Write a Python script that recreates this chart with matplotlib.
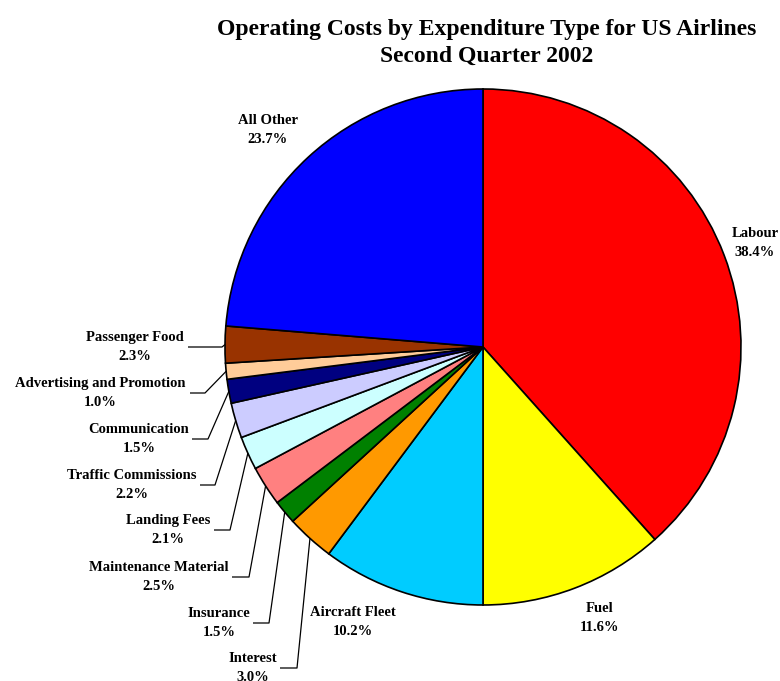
import numpy as np
import matplotlib
matplotlib.use('Agg')
import matplotlib.pyplot as plt

# Operating cost shares, second quarter 2002 (percent of total)
categories = ['Labour', 'Fuel', 'Aircraft Fleet', 'Interest', 'Insurance',
              'Maintenance Material', 'Landing Fees', 'Traffic Commissions',
              'Communication', 'Advertising and Promotion', 'Passenger Food',
              'All Other']
shares = [38.4, 11.6, 10.2, 3.0, 1.5, 2.5, 2.1, 2.2, 1.5, 1.0, 2.3, 23.7]
colors = ['#FF0000', '#FFFF00', '#00CCFF', '#FF9900', '#008000', '#FF8080',
          '#CCFFFF', '#CCCCFF', '#000080', '#FFCC99', '#993300', '#0000FF']

W, H = 780, 681
cx, cy, R = 483, 347, 258

# label centre (x, y) in pixels from the top-left corner
label_pos = {
    'Labour': (755, 243),
    'Fuel': (600, 618),
    'Aircraft Fleet': (353, 622),
    'Interest': (253, 668),
    'Insurance': (219, 623),
    'Maintenance Material': (159, 577),
    'Landing Fees': (168, 530),
    'Traffic Commissions': (132, 485),
    'Communication': (139, 439),
    'Advertising and Promotion': (100, 393),
    'Passenger Food': (135, 347),
    'All Other': (268, 130),
}
# leader lines: (start x, elbow x); the line runs at the label's y
leaders = {
    'Interest': (280, 297),
    'Insurance': (253, 269),
    'Maintenance Material': (232, 249),
    'Landing Fees': (214, 230),
    'Traffic Commissions': (200, 215),
    'Communication': (192, 208),
    'Advertising and Promotion': (190, 205),
    'Passenger Food': (188, 222),
}

plt.rcParams['font.family'] = ['Liberation Serif', 'DejaVu Serif']

fig = plt.figure(figsize=(W / 100, H / 100), dpi=100)
ax = fig.add_axes([0, 0, 1, 1])

wedges, _ = ax.pie(shares, colors=colors, startangle=90, counterclock=False,
                   center=(cx, H - cy), radius=R,
                   wedgeprops=dict(edgecolor='black', linewidth=1.2))
ax.set_aspect('equal')
ax.set_xlim(0, W)
ax.set_ylim(0, H)
ax.axis('off')

for name, share, w in zip(categories, shares, wedges):
    tx, ty = label_pos[name]
    ax.text(tx, H - ty, f'{name}\n{share:.1f}%', ha='center', va='center',
            fontsize=10.5, fontweight='bold', linespacing=1.6)
    if name in leaders:
        x0, ex = leaders[name]
        mid = np.deg2rad((w.theta1 + w.theta2) / 2)
        ax_, ay_ = cx + R * np.cos(mid), (H - cy) + R * np.sin(mid)
        ax.plot([x0, ex, ax_], [H - ty, H - ty, ay_], color='black',
                linewidth=0.9, solid_capstyle='butt')

ax.text(487, H - 43, 'Operating Costs by Expenditure Type for US Airlines\nSecond Quarter 2002',
        ha='center', va='center', fontsize=17, fontweight='bold', linespacing=1.4)

fig.savefig('out.png', dpi=100)
